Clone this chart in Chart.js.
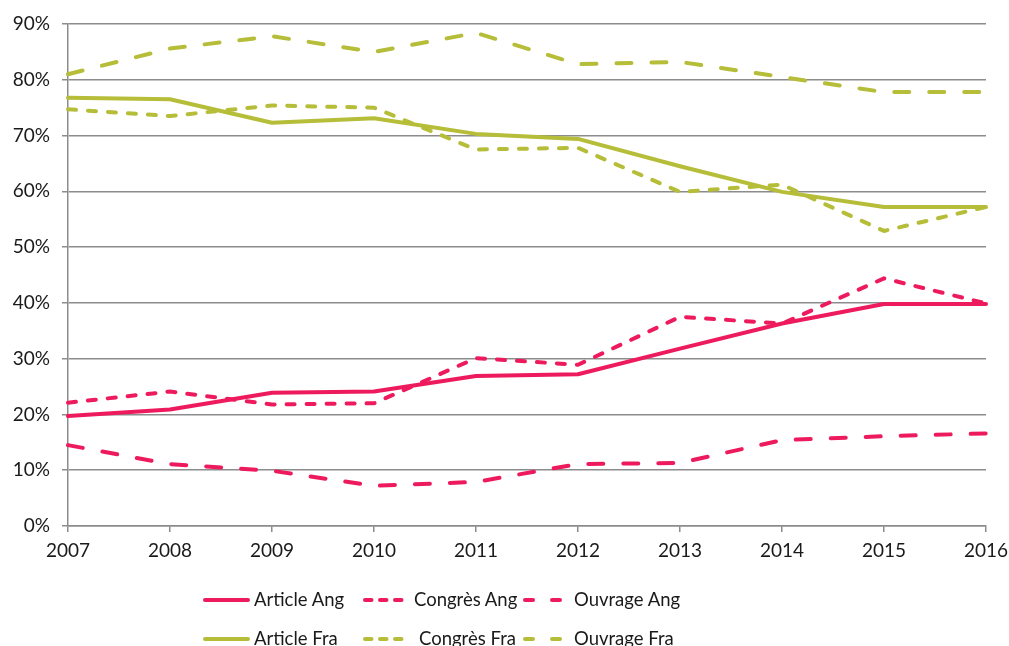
<!DOCTYPE html>
<html>
<head>
<meta charset="utf-8">
<script src="https://cdn.jsdelivr.net/npm/chart.js@4.4.1/dist/chart.umd.min.js"></script>
<style>
    html, body { margin: 0; padding: 0; background: #fff; overflow: hidden; }
    #wrap { position: relative; width: 1009px; height: 646px; }
    #legend .item { position: absolute; height: 30px; font: 18.5px Lato, sans-serif; color: #1a1a1a; white-space: nowrap; }
    #legend svg { position: absolute; top: 0; }
    #legend span { position: absolute; top: 3px; }
</style>
</head>
<body>
<div id="wrap">
    <canvas id="chart" width="1009" height="646"></canvas>
    <div id="legend"></div>
</div>
<script>
// Données (en %)
const YEARS = ['2007', '2008', '2009', '2010', '2011', '2012', '2013', '2014', '2015', '2016'];
const ARTICLE_ANG = [19.7, 20.9, 23.9, 24.1, 26.9, 27.2, 31.8, 36.3, 39.8, 39.8];
const CONGRES_ANG = [22.1, 24.1, 21.8, 22.0, 30.1, 28.9, 37.5, 36.3, 44.4, 39.9];
const OUVRAGE_ANG = [14.5, 11.1, 9.9, 7.2, 7.9, 11.1, 11.3, 15.4, 16.1, 16.6];
const ARTICLE_FRA = [76.8, 76.5, 72.3, 73.1, 70.3, 69.4, 64.5, 59.9, 57.2, 57.2];
const CONGRES_FRA = [74.7, 73.5, 75.4, 75.0, 67.5, 67.8, 59.9, 61.2, 52.9, 57.2];
const OUVRAGE_FRA = [81.0, 85.6, 87.8, 85.0, 88.4, 82.8, 83.2, 80.5, 77.8, 77.8];
const Y_MIN = 0, Y_MAX = 90, Y_STEP = 10;

const PINK = '#ED1B5E';
const GREEN = '#B6BD38';
const GRID = '#8c8c8c';
const FONT = 'Lato, sans-serif';

// styles de trait : plein, tirets courts, tirets longs
const DASH_CONGRES = [8, 12];
const DASH_OUVRAGE = [15, 20];

function serie(label, data, color, dash) {
    return {
        label: label,
        data: data,
        borderColor: color,
        backgroundColor: color,
        borderWidth: 4,
        borderDash: dash,
        borderCapStyle: 'round',
        borderJoinStyle: 'round',
        pointRadius: 0,
        tension: 0,
        fill: false
    };
}

const DATASETS = [
    serie('Ouvrage Fra', OUVRAGE_FRA, GREEN, DASH_OUVRAGE),
    serie('Congrès Fra', CONGRES_FRA, GREEN, DASH_CONGRES),
    serie('Article Fra', ARTICLE_FRA, GREEN, []),
    serie('Ouvrage Ang', OUVRAGE_ANG, PINK, DASH_OUVRAGE),
    serie('Congrès Ang', CONGRES_ANG, PINK, DASH_CONGRES),
    serie('Article Ang', ARTICLE_ANG, PINK, [])
];

new Chart(document.getElementById('chart'), {
    type: 'line',
    data: { labels: YEARS, datasets: DATASETS },
    options: {
        responsive: false,
        animation: false,
        layout: { padding: { top: 24, right: 23, left: 0, bottom: 0 } },
        plugins: { legend: { display: false }, tooltip: { enabled: false } },
        scales: {
            x: {
                offset: false,
                grid: { drawOnChartArea: false, drawTicks: true, tickLength: 6, color: GRID, lineWidth: 1.5 },
                border: { display: true, color: GRID, width: 1.5 },
                ticks: { color: '#1a1a1a', font: { family: FONT, size: 19 }, padding: 7, maxRotation: 0, autoSkip: false },
                afterFit: (scale) => {
                    scale.height = 120;
                    scale.paddingLeft = 0;
                    scale.paddingRight = 0;
                }
            },
            y: {
                min: Y_MIN,
                max: Y_MAX,
                grid: { drawTicks: true, tickLength: 6, color: GRID, lineWidth: 1.5 },
                border: { display: true, color: GRID, width: 1.5 },
                ticks: {
                    stepSize: Y_STEP,
                    color: '#1a1a1a',
                    font: { family: FONT, size: 19 },
                    padding: 12,
                    callback: (v) => v + '%'
                },
                afterFit: (scale) => {
                    scale.width = 68;
                    scale.paddingTop = 0;
                    scale.paddingBottom = 0;
                }
            }
        }
    }
});

// Légende HTML sur deux lignes, trois colonnes
const LEGEND_POS = [
    { name: 'Article Ang', x: 203, y: 585, text: 254 },
    { name: 'Congrès Ang', x: 363, y: 585, text: 414 },
    { name: 'Ouvrage Ang', x: 523, y: 585, text: 574 },
    { name: 'Article Fra', x: 203, y: 624, text: 254 },
    { name: 'Congrès Fra', x: 363, y: 624, text: 419 },
    { name: 'Ouvrage Fra', x: 523, y: 624, text: 574 }
];
const legend = document.getElementById('legend');
LEGEND_POS.forEach((p) => {
    const ds = DATASETS.find((d) => d.label === p.name);
    let dashArr = '';
    if (ds.borderDash === DASH_CONGRES) dashArr = '6.5 8.5';
    if (ds.borderDash === DASH_OUVRAGE) dashArr = '8 19';
    const item = document.createElement('div');
    item.className = 'item';
    item.style.left = p.x + 'px';
    item.style.top = p.y + 'px';
    item.style.width = '300px';
    item.innerHTML =
        '<svg width="50" height="30"><line x1="2" y1="15" x2="' + (dashArr ? 42 : 45) + '" y2="15" stroke="' + ds.borderColor +
        '" stroke-width="4" stroke-linecap="round"' + (dashArr ? ' stroke-dasharray="' + dashArr + '"' : '') + '/></svg>' +
        '<span style="left:' + (p.text - p.x) + 'px">' + p.name + '</span>';
    legend.appendChild(item);
});
</script>
</body>
</html>
